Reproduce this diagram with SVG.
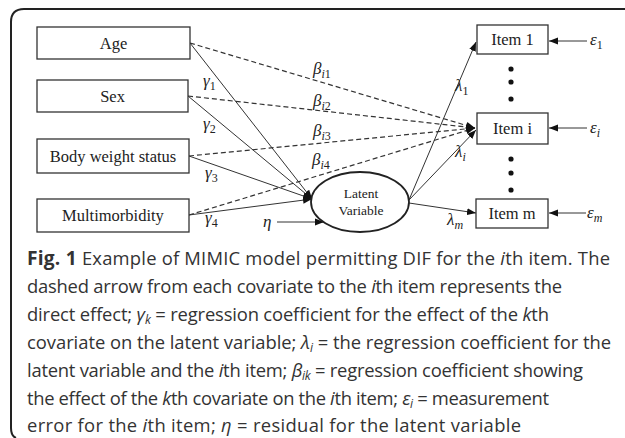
<svg xmlns="http://www.w3.org/2000/svg" width="625" height="438" viewBox="0 0 625 438">
<style>
.box{fill:#fff;stroke:#333;stroke-width:1.3}
.lbl{font-family:"Liberation Serif","Times New Roman",serif;font-size:16.5px;fill:#222;text-anchor:middle}
.sm{font-family:"Liberation Serif","Times New Roman",serif;font-size:13.5px;fill:#222;text-anchor:middle}
.gk{font-family:"Liberation Serif","Times New Roman",serif;font-size:17px;font-style:italic;fill:#222}
.sub{font-size:12px}
.up{font-style:normal}
.solid{stroke:#333;stroke-width:1;fill:none}
.dash{stroke:#333;stroke-width:1.2;fill:none;stroke-dasharray:5 3}
.cap{font-family:"Open Sans","Noto Sans",sans-serif;font-size:18.4px;fill:#333}
</style>
<defs>
<marker id="ah" markerUnits="userSpaceOnUse" markerWidth="10" markerHeight="8" refX="9" refY="4" orient="auto">
<path d="M0,0.5 L9,4 L0,7.5 Z" fill="#111"/>
</marker>
</defs>
<rect width="625" height="438" fill="#fff"/>
<path d="M16,438 Q11,436 11,428 V22 Q11,9 24,9 H625" fill="none" stroke="#222" stroke-width="2"/>

<g id="connectors">
<line class="dash" x1="190" y1="43" x2="475" y2="128" marker-end="url(#ah)"/>
<line class="dash" x1="188" y1="96" x2="475" y2="128" marker-end="url(#ah)"/>
<line class="dash" x1="189" y1="156" x2="475" y2="128" marker-end="url(#ah)"/>
<line class="dash" x1="189" y1="215" x2="475" y2="128" marker-end="url(#ah)"/>
<line class="solid" x1="190" y1="43" x2="312" y2="199" marker-end="url(#ah)"/>
<line class="solid" x1="188" y1="96" x2="312" y2="199" marker-end="url(#ah)"/>
<line class="solid" x1="189" y1="156" x2="312" y2="199" marker-end="url(#ah)"/>
<line class="solid" x1="189" y1="215" x2="312" y2="199" marker-end="url(#ah)"/>
<line class="solid" x1="277" y1="222" x2="324" y2="222" marker-end="url(#ah)"/>
<line class="solid" x1="409" y1="200" x2="476" y2="42" marker-end="url(#ah)"/>
<line class="solid" x1="409" y1="200" x2="476" y2="130" marker-end="url(#ah)"/>
<line class="solid" x1="409" y1="203" x2="476" y2="213" marker-end="url(#ah)"/>
<line class="solid" x1="587" y1="41" x2="549" y2="41" marker-end="url(#ah)"/>
<line class="solid" x1="587" y1="128" x2="549" y2="128" marker-end="url(#ah)"/>
<line class="solid" x1="586" y1="213" x2="549" y2="213" marker-end="url(#ah)"/>
</g>

<g id="age"><rect class="box" x="37" y="27" width="153" height="32"/><text class="lbl" x="113.5" y="49">Age</text></g>
<g id="sex"><rect class="box" x="37" y="80" width="151" height="32"/><text class="lbl" x="112.5" y="102">Sex</text></g>
<g id="bws"><rect class="box" x="37" y="139" width="152" height="34"/><text class="lbl" x="113" y="162">Body weight status</text></g>
<g id="multi"><rect class="box" x="37" y="199" width="152" height="33"/><text class="lbl" x="113" y="221">Multimorbidity</text></g>

<g id="latent"><ellipse cx="360" cy="202" rx="49" ry="30" fill="#fff" stroke="#222" stroke-width="1.8"/>
<text class="sm" x="361" y="198">Latent</text><text class="sm" x="361" y="215">Variable</text></g>

<g id="item1"><rect class="box" x="477" y="25" width="71" height="29"/><text class="lbl" x="512.5" y="45">Item 1</text></g>
<g id="itemi"><rect class="box" x="477" y="113" width="71" height="31"/><text class="lbl" x="512.5" y="134">Item i</text></g>
<g id="itemm"><rect class="box" x="476" y="199" width="72" height="29"/><text class="lbl" x="512" y="219">Item m</text></g>

<g id="dots" fill="#111">
<circle cx="511" cy="69" r="2.6"/><circle cx="511" cy="82" r="2.6"/><circle cx="511" cy="99" r="2.6"/>
<circle cx="511" cy="159" r="2.6"/><circle cx="511" cy="173" r="2.6"/><circle cx="511" cy="190" r="2.6"/>
</g>

<g id="labels">
<text class="gk" x="590" y="45">ε<tspan class="sub up" dy="4">1</tspan></text>
<text class="gk" x="590" y="133">ε<tspan class="sub" dy="4">i</tspan></text>
<text class="gk" x="587" y="218">ε<tspan class="sub" dy="4">m</tspan></text>
<text class="gk" x="203" y="86">γ<tspan class="sub up" dy="4">1</tspan></text>
<text class="gk" x="203" y="129">γ<tspan class="sub up" dy="4">2</tspan></text>
<text class="gk" x="205" y="178">γ<tspan class="sub up" dy="4">3</tspan></text>
<text class="gk" x="205" y="223">γ<tspan class="sub up" dy="4">4</tspan></text>
<text class="gk" x="263" y="227">η</text>
<text class="gk" x="313" y="74">β<tspan class="sub" dy="4">i</tspan><tspan class="sub up">1</tspan></text>
<text class="gk" x="313" y="106">β<tspan class="sub" dy="4">i</tspan><tspan class="sub up">2</tspan></text>
<text class="gk" x="313" y="136">β<tspan class="sub" dy="4">i</tspan><tspan class="sub up">3</tspan></text>
<text class="gk" x="312" y="165">β<tspan class="sub" dy="4">i</tspan><tspan class="sub up">4</tspan></text>
<text class="gk" x="455" y="91">λ<tspan class="sub up" dy="4">1</tspan></text>
<text class="gk" x="455" y="157">λ<tspan class="sub" dy="4">i</tspan></text>
<text class="gk" x="447" y="225">λ<tspan class="sub" dy="4">m</tspan></text>
</g>

<g id="caption" class="cap">
<text x="27" y="265" textLength="583" lengthAdjust="spacing"><tspan font-weight="bold" font-size="19.2px">Fig. 1</tspan> Example of MIMIC model permitting DIF for the <tspan font-style="italic">i</tspan>th item. The</text>
<text x="27" y="293" textLength="535" lengthAdjust="spacing">dashed arrow from each covariate to the <tspan font-style="italic">i</tspan>th item represents the</text>
<text x="27" y="321" textLength="522" lengthAdjust="spacing">direct effect; <tspan font-style="italic">γ<tspan font-size="12px" dy="3">k</tspan></tspan><tspan dy="-3"> = regression coefficient for the effect of the </tspan><tspan font-style="italic">k</tspan>th</text>
<text x="27" y="349" textLength="584" lengthAdjust="spacing">covariate on the latent variable; <tspan font-style="italic">λ<tspan font-size="12px" dy="3">i</tspan></tspan><tspan dy="-3"> = the regression coefficient for the</tspan></text>
<text x="27" y="377" textLength="556" lengthAdjust="spacing">latent variable and the <tspan font-style="italic">i</tspan>th item; <tspan font-style="italic">β<tspan font-size="12px" dy="3">ik</tspan></tspan><tspan dy="-3"> = regression coefficient showing</tspan></text>
<text x="27" y="405" textLength="522" lengthAdjust="spacing">the effect of the <tspan font-style="italic">k</tspan>th covariate on the <tspan font-style="italic">i</tspan>th item; <tspan font-style="italic">ε<tspan font-size="12px" dy="3">i</tspan></tspan><tspan dy="-3"> = measurement</tspan></text>
<text x="27" y="432" textLength="494" lengthAdjust="spacing">error for the <tspan font-style="italic">i</tspan>th item; <tspan font-style="italic">η</tspan> = residual for the latent variable</text>
</g>
</svg>
